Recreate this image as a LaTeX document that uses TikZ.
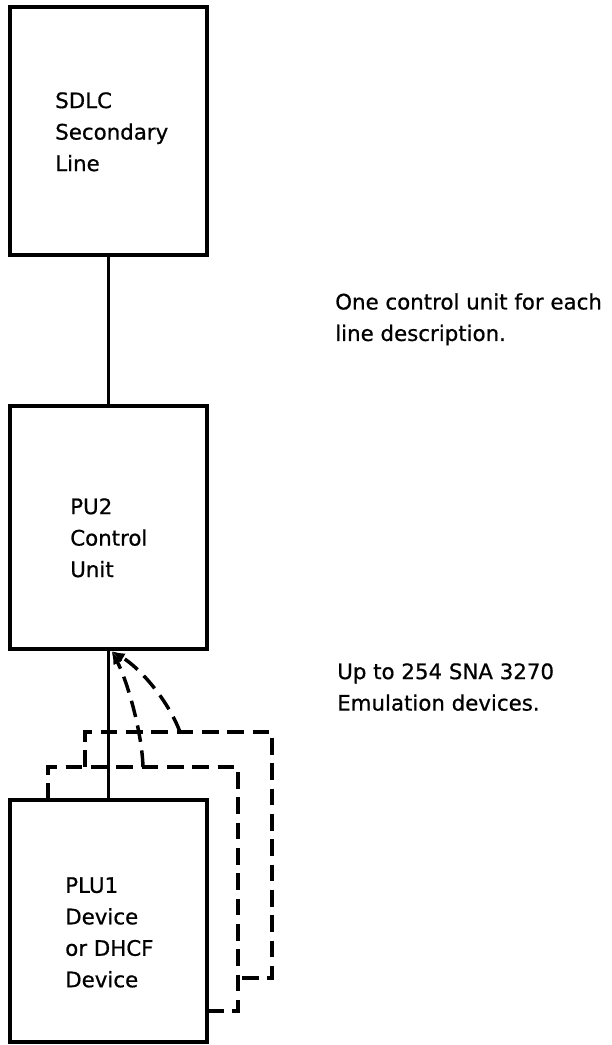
\documentclass[tikz,border=0pt]{standalone}
\usepackage{fontspec}
\setmainfont{DejaVu Sans}[FakeBold=0.7]
\usetikzlibrary{arrows.meta}
\begin{document}
\begin{tikzpicture}[x=0.75pt,y=-0.75pt,
  unitbox/.style={draw, line width=2.8pt, minimum width=147.75pt, inner sep=0pt},
  boxtext/.style={anchor=north west, inner sep=0pt, align=left,
    font=\fontsize{16}{23.6}\selectfont},
  link/.style={line width=2.8pt},
  shadow/.style={line width=2.6pt, dash pattern=on 12.5pt off 6.5pt},
  tip/.style={-{Latex[length=10pt,width=7.5pt]}},
]
\useasboundingbox (0,0) rectangle (611,1045);

% the three units
\node[unitbox, minimum height=186pt]    (sdlc) at (108.5,131)   {};
\node[unitbox, minimum height=182.25pt] (pu)   at (108.5,527.5) {};
\node[unitbox, minimum height=181.5pt]  (plu)  at (108.5,921)   {};

\node[boxtext] (sdlctext) at (55,92)  {SDLC\\Secondary\\Line};
\node[boxtext] (putext)   at (70,498) {PU2\\Control\\Unit};
\node[boxtext] (plutext)  at (65,877) {PLU1\\Device\\or DHCF\\Device};

% notes
\node[boxtext] (note1) at (335,293) {One control unit for each\\line description.};
\node[boxtext] (note2) at (337,663) {Up to 254 SNA 3270\\Emulation devices.};

% solid links
\draw[link] (sdlc.south) -- (pu.north);
\draw[link] (pu.south) -- (plu.north);

% stacked device outlines behind the PLU1 box
\draw[shadow] (48,800) -- (48,767) -- (238,767) -- (238,1011) -- (207,1011);
\draw[shadow] (85,767) -- (85,732) -- (272,732) -- (272,978) -- (238,978);

% links from the extra devices up to the control unit
\coordinate (arrowend) at (111.5,651);
\coordinate (dev2) at (143,767);
\coordinate (dev3) at (180,732);
\draw[shadow, tip] (dev2) .. controls (142,732) and (127,680) .. (arrowend);
\draw[shadow, tip] (dev3) .. controls (168,700) and (140,668) .. (arrowend);
\end{tikzpicture}
\end{document}
